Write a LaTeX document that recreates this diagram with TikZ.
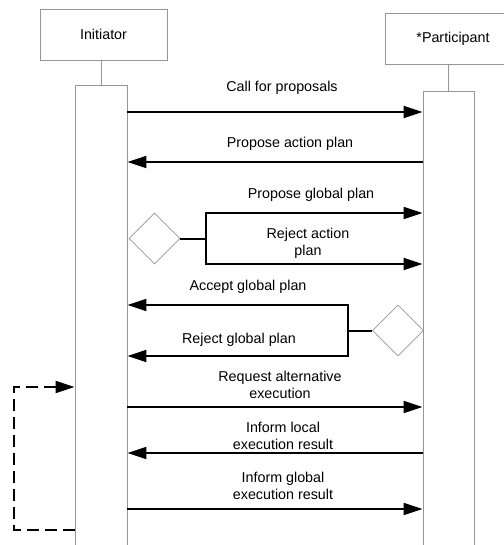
\documentclass[tikz,border=0pt]{standalone}
\usepackage{fontspec}
\setmainfont{Liberation Sans}
\usetikzlibrary{arrows.meta,shapes.geometric}
\definecolor{boxgray}{RGB}{150,150,150}
\begin{document}
\begin{tikzpicture}[x=1pt,y=-1pt,
  txt/.style={font=\fontsize{14.3}{17}\selectfont, align=center, inner sep=0pt},
  role/.style={draw=boxgray, line width=0.9pt, minimum height=51pt, inner sep=0pt,
               font=\fontsize{14.3}{17}\selectfont},
  bar/.style={draw=boxgray, line width=0.9pt, inner sep=0pt},
  lifeline/.style={draw=boxgray, line width=0.9pt},
  choice/.style={diamond, aspect=1, draw=boxgray, line width=0.7pt,
                 minimum width=51pt, minimum height=51pt, inner sep=0pt},
  wire/.style={line width=2pt},
  msg/.style={line width=2pt, -{Triangle[length=19pt,width=12pt]}},
  retry/.style={line width=2pt, dash pattern=on 12pt off 6pt,
                -{Triangle[length=19pt,width=12pt]}}
]
\useasboundingbox (0,0) rectangle (503,545);

% role boxes and activation bars
\node[role, minimum width=127pt] (init) at (103.5,34.5) {Initiator};
\node[role, minimum width=136pt] (part) at (453,39) {*Participant};
\node[bar, minimum width=52pt, minimum height=470pt] (ibar) at (101,320) {};
\node[bar, minimum width=51pt, minimum height=464pt] (pbar) at (448.5,323) {};
\draw[lifeline] (ibar.north) -- (ibar.north |- init.south);
\draw[lifeline] (pbar.north) -- (pbar.north |- part.south);

% message levels
\coordinate (m1) at (0,112);
\coordinate (m2) at (0,162);
\coordinate (m3) at (0,213);
\coordinate (m4) at (0,264);
\coordinate (m5) at (0,305);
\coordinate (m6) at (0,356);
\coordinate (m7) at (0,407);
\coordinate (m8) at (0,453);
\coordinate (m9) at (0,509);

% call for proposals / proposal
\draw[msg] (ibar.east |- m1) -- (pbar.west |- m1);
\node[txt] (l1) at (282,88) {Call for proposals};
\draw[msg] (pbar.west |- m2) -- (ibar.east |- m2);
\node[txt] (l2) at (290,144) {Propose action plan};

% initiator decision
\node[choice] (dL) at (154.5,238.5) {};
\coordinate (forkL) at (206,238.5);
\draw[wire] (dL.east) -- (forkL);
\draw[msg] (forkL) |- (pbar.west |- m3);
\draw[msg] (forkL) |- (pbar.west |- m4);
\node[txt] (l3) at (311,195) {Propose global plan};
\node[txt] (l4) at (308,243.5) {Reject action\\plan};

% participant decision
\node[choice] (dR) at (398,330.5) {};
\coordinate (forkR) at (348,330.5);
\draw[wire] (dR.west) -- (forkR);
\draw[msg] (forkR) |- (ibar.east |- m5);
\draw[msg] (forkR) |- (ibar.east |- m6);
\node[txt] (l5) at (248,287) {Accept global plan};
\node[txt] (l6) at (239,340) {Reject global plan};

% execution
\draw[msg] (ibar.east |- m7) -- (pbar.west |- m7);
\node[txt] (l7) at (280,385) {Request alternative\\execution};
\draw[msg] (pbar.west |- m8) -- (ibar.east |- m8);
\node[txt] (l8) at (283,435.5) {Inform local\\execution result};
\draw[msg] (ibar.east |- m9) -- (pbar.west |- m9);
\node[txt] (l9) at (283,486) {Inform global\\execution result};

% loop back to the alternative request
\coordinate (rt) at (0,387);
\coordinate (rb) at (0,530);
\coordinate (rx) at (14,0);
\draw[retry] (ibar.west |- rb) -- (rx |- rb) -- (rx |- rt) -- (ibar.west |- rt);
\end{tikzpicture}
\end{document}
